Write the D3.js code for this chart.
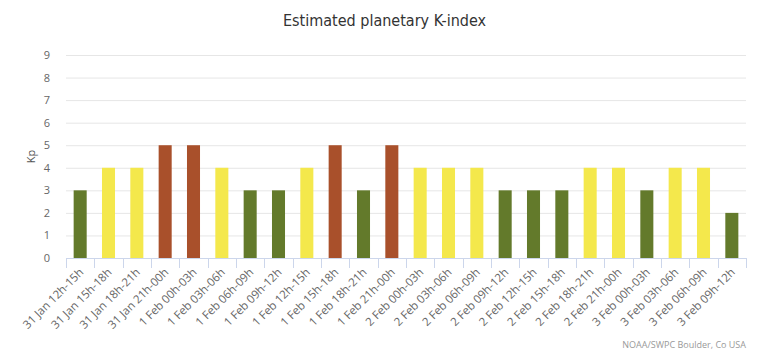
<!DOCTYPE html>
<html>
<head>
<meta charset="utf-8">
<script src="https://cdn.jsdelivr.net/npm/d3@7"></script>
<style>
body { margin: 0; background: #fff; }
text { font-family: "Open Sans", "DejaVu Sans", sans-serif; }
</style>
</head>
<body>
<div id="chart"></div>
<script>
const periods = [
  "31 Jan 12h-15h", "31 Jan 15h-18h", "31 Jan 18h-21h", "31 Jan 21h-00h",
  "1 Feb 00h-03h", "1 Feb 03h-06h", "1 Feb 06h-09h", "1 Feb 09h-12h",
  "1 Feb 12h-15h", "1 Feb 15h-18h", "1 Feb 18h-21h", "1 Feb 21h-00h",
  "2 Feb 00h-03h", "2 Feb 03h-06h", "2 Feb 06h-09h", "2 Feb 09h-12h",
  "2 Feb 12h-15h", "2 Feb 15h-18h", "2 Feb 18h-21h", "2 Feb 21h-00h",
  "3 Feb 00h-03h", "3 Feb 03h-06h", "3 Feb 06h-09h", "3 Feb 09h-12h"
];
const kp = [3, 4, 4, 5, 5, 4, 3, 3, 4, 5, 3, 5, 4, 4, 4, 3, 3, 3, 4, 4, 3, 4, 4, 2];
const yTicks = [0, 1, 2, 3, 4, 5, 6, 7, 8, 9];

const W = 769, H = 353;
const margin = { top: 55, right: 23, bottom: 95, left: 66 };
const width = W - margin.left - margin.right,
  height = H - margin.top - margin.bottom;

const svg = d3.select("#chart").append("svg")
  .attr("width", W).attr("height", H);

const g = svg.append("g")
  .attr("transform", `translate(${margin.left},${margin.top})`);

const x = d3.scaleBand().domain(periods).range([0, width]).paddingInner(0.54).paddingOuter(0.27);
const y = d3.scaleLinear().domain([0, 9]).range([height, 0]);

const color = v => v < 4 ? "#637a2b" : (v < 5 ? "#f4e84c" : "#a9502b");

// gridlines
g.selectAll(".grid").data(yTicks).enter().append("line")
  .attr("x1", 0).attr("x2", width)
  .attr("y1", d => y(d) + 0.5).attr("y2", d => y(d) + 0.5)
  .attr("stroke", "#e6e6e6");

// y axis labels
g.selectAll(".ylab").data(yTicks).enter().append("text")
  .attr("x", -16).attr("y", d => y(d) + 4)
  .attr("text-anchor", "end")
  .attr("font-size", 11).attr("fill", "#666")
  .text(d => d);

g.append("text")
  .attr("transform", `translate(-31,${y(4.5)}) rotate(-90)`)
  .attr("text-anchor", "middle")
  .attr("font-size", 11).attr("fill", "#555")
  .text("Kp");

// bars
g.selectAll(".bar").data(kp).enter().append("rect")
  .attr("x", (d, i) => x(periods[i]))
  .attr("y", d => y(d))
  .attr("width", x.bandwidth())
  .attr("height", d => height - y(d))
  .attr("fill", d => color(d));

// x axis
const step = x.step();
const xAxis = g.append("g").attr("transform", `translate(0,${height})`);
xAxis.append("line").attr("x1", 0).attr("x2", width)
  .attr("y1", 0.5).attr("y2", 0.5).attr("stroke", "#ccd6eb");
xAxis.selectAll(".tick").data(d3.range(periods.length + 1)).enter().append("line")
  .attr("x1", d => Math.round(d * step) + 0.5).attr("x2", d => Math.round(d * step) + 0.5)
  .attr("y1", 0).attr("y2", 10).attr("stroke", "#ccd6eb");
xAxis.selectAll(".xlab").data(periods).enter().append("text")
  .attr("transform", d => `translate(${x(d) + x.bandwidth() / 2 + 4},${15}) rotate(-45)`)
  .attr("text-anchor", "end")
  .attr("font-size", 11.5).attr("fill", "#666")
  .text(d => d);

// title
svg.append("text")
  .attr("x", W / 2).attr("y", 26)
  .attr("text-anchor", "middle")
  .attr("font-size", 16).attr("fill", "#333")
  .style("font-family", "'DejaVu Sans Condensed', 'Liberation Sans Narrow', sans-serif")
  .text("Estimated planetary K-index");

// credits
svg.append("text")
  .attr("x", W - 23).attr("y", 348)
  .attr("text-anchor", "end")
  .attr("font-size", 9).attr("fill", "#999")
  .text("NOAA/SWPC Boulder, Co USA");
</script>
</body>
</html>
